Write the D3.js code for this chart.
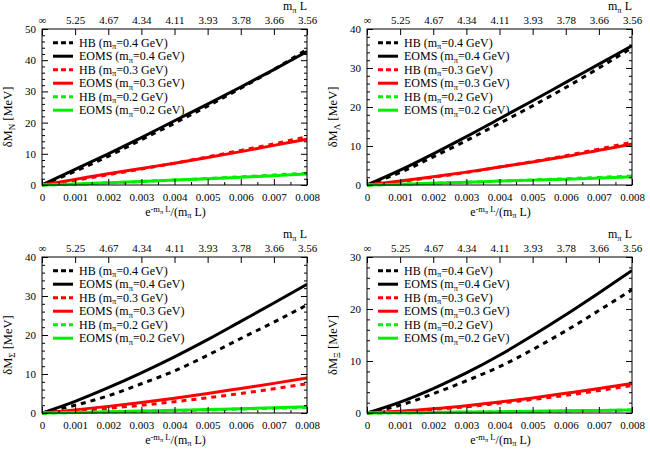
<!DOCTYPE html>
<html><head><meta charset="utf-8">
<script src="https://cdn.jsdelivr.net/npm/d3@7"></script>
<style>
body{margin:0;background:#fff;}
svg{display:block;font-family:"Liberation Serif","Times New Roman",serif;}
</style></head>
<body><svg id="c" width="650" height="455"></svg>
<script>
// ---- data ----
const xValues = [0, 0.001, 0.002, 0.003, 0.004, 0.005, 0.006, 0.007, 0.008];
const xTickLabels = ["0","0.001","0.002","0.003","0.004","0.005","0.006","0.007","0.008"];
const topTickLabels = ["\u221e","5.25","4.67","4.34","4.11","3.93","3.78","3.66","3.56"];
const baryons = ["N", "\u039b", "\u03a3", "\u039e"];
const yMaxima = [50, 40, 40, 30];
const seriesMethods = ["HB", "EOMS", "HB", "EOMS", "HB", "EOMS"];
const seriesMasses = ["0.4", "0.4", "0.3", "0.3", "0.2", "0.2"];
const seriesColors = ["#000000", "#000000", "#ff0000", "#ff0000", "#00f000", "#00f000"];

// Nucleon
const nHB04   = [0, 4.4, 9.2, 14.5, 19.8, 25.3, 31.0, 37.0, 43.5];
const nEOMS04 = [0, 5.0, 10.0, 15.2, 20.6, 25.9, 31.4, 37.0, 42.8];
const nHB03   = [0, 1.5, 3.3, 5.1, 7.0, 9.0, 11.1, 13.2, 15.5];
const nEOMS03 = [0, 1.8, 3.6, 5.3, 7.0, 8.8, 10.7, 12.7, 14.7];
const nHB02   = [0, 0.3, 0.7, 1.1, 1.6, 2.1, 2.6, 3.2, 3.8];
const nEOMS02 = [0, 0.35, 0.75, 1.15, 1.6, 2.0, 2.5, 3.0, 3.5];
// Lambda
const lHB04   = [0, 3.2, 7.2, 11.4, 15.8, 20.3, 25.0, 30.0, 35.2];
const lEOMS04 = [0, 3.8, 8.0, 12.4, 17.0, 21.6, 26.3, 31.0, 35.7];
const lHB03   = [0, 0.9, 2.0, 3.2, 4.6, 6.0, 7.5, 9.2, 11.0];
const lEOMS03 = [0, 1.0, 2.1, 3.3, 4.6, 5.9, 7.3, 8.9, 10.5];
const lHB02   = [0, 0.2, 0.45, 0.7, 1.0, 1.3, 1.6, 1.95, 2.3];
const lEOMS02 = [0, 0.2, 0.45, 0.7, 1.0, 1.25, 1.5, 1.8, 2.1];
// Sigma
const sHB04   = [0, 2.0, 4.4, 7.5, 10.8, 14.8, 19.1, 23.3, 27.7];
const sEOMS04 = [0, 3.0, 6.5, 10.3, 14.4, 18.8, 23.5, 28.2, 33.0];
const sHB03   = [0, 0.5, 1.2, 2.0, 2.9, 3.9, 5.0, 6.2, 7.5];
const sEOMS03 = [0, 0.8, 1.7, 2.7, 3.8, 5.0, 6.3, 7.6, 9.0];
const sHB02   = [0, 0.1, 0.25, 0.42, 0.6, 0.8, 1.0, 1.2, 1.45];
const sEOMS02 = [0, 0.15, 0.3, 0.5, 0.7, 0.9, 1.1, 1.35, 1.6];
// Xi
const xiHB04   = [0, 1.5, 3.7, 6.2, 8.9, 12.2, 15.8, 19.7, 23.7];
const xiEOMS04 = [0, 2.1, 4.7, 7.7, 11.1, 14.9, 18.9, 23.1, 27.4];
const xiHB03   = [0, 0.3, 0.7, 1.2, 1.9, 2.6, 3.4, 4.3, 5.3];
const xiEOMS03 = [0, 0.35, 0.8, 1.4, 2.1, 2.9, 3.8, 4.7, 5.7];
const xiHB02   = [0, 0.04, 0.09, 0.15, 0.22, 0.3, 0.38, 0.47, 0.57];
const xiEOMS02 = [0, 0.05, 0.1, 0.18, 0.25, 0.33, 0.42, 0.5, 0.6];

const panelSeries = [
  [nHB04, nEOMS04, nHB03, nEOMS03, nHB02, nEOMS02],
  [lHB04, lEOMS04, lHB03, lEOMS03, lHB02, lEOMS02],
  [sHB04, sEOMS04, sHB03, sEOMS03, sHB02, sEOMS02],
  [xiHB04, xiEOMS04, xiHB03, xiEOMS03, xiHB02, xiEOMS02]
];

// ---- drawing ----
const FONT = "'Liberation Serif', 'Times New Roman', serif";
const svg = d3.select("#c");
const offsets = [[0,0],[325,0],[0,228],[325,228]];
const L = 42, R = 307, T = 29, B = 185;
const minorX = d3.range(0.0005, 0.008, 0.001);

panelSeries.forEach((series, p) => {
  const g = svg.append("g").attr("transform", `translate(${offsets[p][0]},${offsets[p][1]})`)
    .attr("font-family", FONT);
  const ymax = yMaxima[p];
  const x = d3.scaleLinear().domain([0, 0.008]).range([L, R]);
  const y = d3.scaleLinear().domain([0, ymax]).range([B, T]);
  const yMajor = d3.range(0, ymax + 0.01, 10);
  const yMinor = d3.range(2, ymax, 2).filter(v => v % 10 !== 0);

  const clipId = "clip" + p;
  g.append("clipPath").attr("id", clipId).append("rect")
    .attr("x", L).attr("y", T - 2).attr("width", R - L).attr("height", B - T + 4);

  // curves
  const line = d3.line().x((d, i) => x(xValues[i])).y(d => y(d)).curve(d3.curveMonotoneX);
  series.forEach((vals, s) => {
    g.append("path").datum(vals)
      .attr("clip-path", `url(#${clipId})`)
      .attr("d", line)
      .attr("fill", "none")
      .attr("stroke", seriesColors[s])
      .attr("stroke-width", 3)
      .attr("stroke-dasharray", seriesMethods[s] === "HB" ? "5,5" : null);
  });

  // axes
  const styleAxis = (sel, fs) => {
    sel.attr("font-family", FONT);
    sel.select(".domain").remove();
    sel.selectAll("line").attr("stroke", "#000").attr("stroke-width", 1);
    sel.selectAll("text").attr("font-family", FONT).attr("font-size", fs).attr("fill", "#000");
  };
  g.append("g").attr("transform", `translate(0,${B})`)
    .call(d3.axisBottom(x).tickValues(xValues).tickSize(-6).tickPadding(8.5).tickFormat((d, i) => xTickLabels[i]))
    .call(s => styleAxis(s, 11));
  g.append("g").attr("transform", `translate(0,${B})`)
    .call(d3.axisBottom(x).tickValues(minorX).tickSize(-3).tickFormat(""))
    .call(s => styleAxis(s, 11));
  g.append("g").attr("transform", `translate(0,${T})`)
    .call(d3.axisTop(x).tickValues(xValues).tickSize(-6).tickPadding(5).tickFormat((d, i) => topTickLabels[i]))
    .call(s => styleAxis(s, 11));
  g.append("g").attr("transform", `translate(${L},0)`)
    .call(d3.axisLeft(y).tickValues(yMajor).tickSize(-6).tickPadding(6).tickFormat(d3.format("d")))
    .call(s => styleAxis(s, 11));
  g.append("g").attr("transform", `translate(${L},0)`)
    .call(d3.axisLeft(y).tickValues(yMinor).tickSize(-3).tickFormat(""))
    .call(s => styleAxis(s, 11));
  g.append("g").attr("transform", `translate(${R},0)`)
    .call(d3.axisRight(y).tickValues(yMajor).tickSize(-6).tickFormat(""))
    .call(s => styleAxis(s, 11));
  g.append("g").attr("transform", `translate(${R},0)`)
    .call(d3.axisRight(y).tickValues(yMinor).tickSize(-3).tickFormat(""))
    .call(s => styleAxis(s, 11));

  g.append("rect").attr("x", L).attr("y", T).attr("width", R - L).attr("height", B - T)
    .attr("fill", "none").attr("stroke", "#000").attr("stroke-width", 1);

  // y label
  const yl = g.append("text").attr("transform", `translate(12,117) rotate(-90)`)
    .attr("text-anchor", "middle").attr("font-size", 12.5).attr("fill", "#000");
  yl.append("tspan").text("\u03b4M");
  yl.append("tspan").attr("dy", 3).attr("font-size", 9).text(baryons[p]);
  yl.append("tspan").attr("dy", -3).text(" [MeV]");

  // x label
  const xl = g.append("text").attr("x", (L + R) / 2 + 1).attr("y", 215.5)
    .attr("text-anchor", "middle").attr("font-size", 12).attr("fill", "#000");
  xl.append("tspan").text("e");
  xl.append("tspan").attr("dy", -3.5).attr("font-size", 8.5).text("-m");
  xl.append("tspan").attr("dy", 1.5).attr("font-size", 6.5).text("\u03c0");
  xl.append("tspan").attr("dy", -1.5).attr("font-size", 8.5).text(" L");
  xl.append("tspan").attr("dy", 3.5).text("/(m");
  xl.append("tspan").attr("dy", 2.5).attr("font-size", 8.5).text("\u03c0");
  xl.append("tspan").attr("dy", -2.5).text(" L)");

  // top axis title
  const tl = g.append("text").attr("x", 283).attr("y", 10).attr("font-size", 12).attr("fill", "#000");
  tl.append("tspan").text("m");
  tl.append("tspan").attr("dy", 2.5).attr("font-size", 8.5).text("\u03c0");
  tl.append("tspan").attr("dy", -2.5).text(" L");

  // legend
  const ly0 = 42.7, ldy = 13.5;
  seriesMethods.forEach((m, s) => {
    const yy = ly0 + s * ldy;
    g.append("line").attr("x1", 53).attr("x2", 73).attr("y1", yy).attr("y2", yy)
      .attr("stroke", seriesColors[s]).attr("stroke-width", 3)
      .attr("stroke-dasharray", m === "HB" ? "5,3" : null);
    const t = g.append("text").attr("x", 79).attr("y", yy + 4).attr("font-size", 12).attr("fill", "#000");
    t.append("tspan").text(m + " (m");
    t.append("tspan").attr("dy", 2.5).attr("font-size", 8.5).text("\u03c0");
    t.append("tspan").attr("dy", -2.5).text("=" + seriesMasses[s] + " GeV)");
  });
});
</script></body></html>
